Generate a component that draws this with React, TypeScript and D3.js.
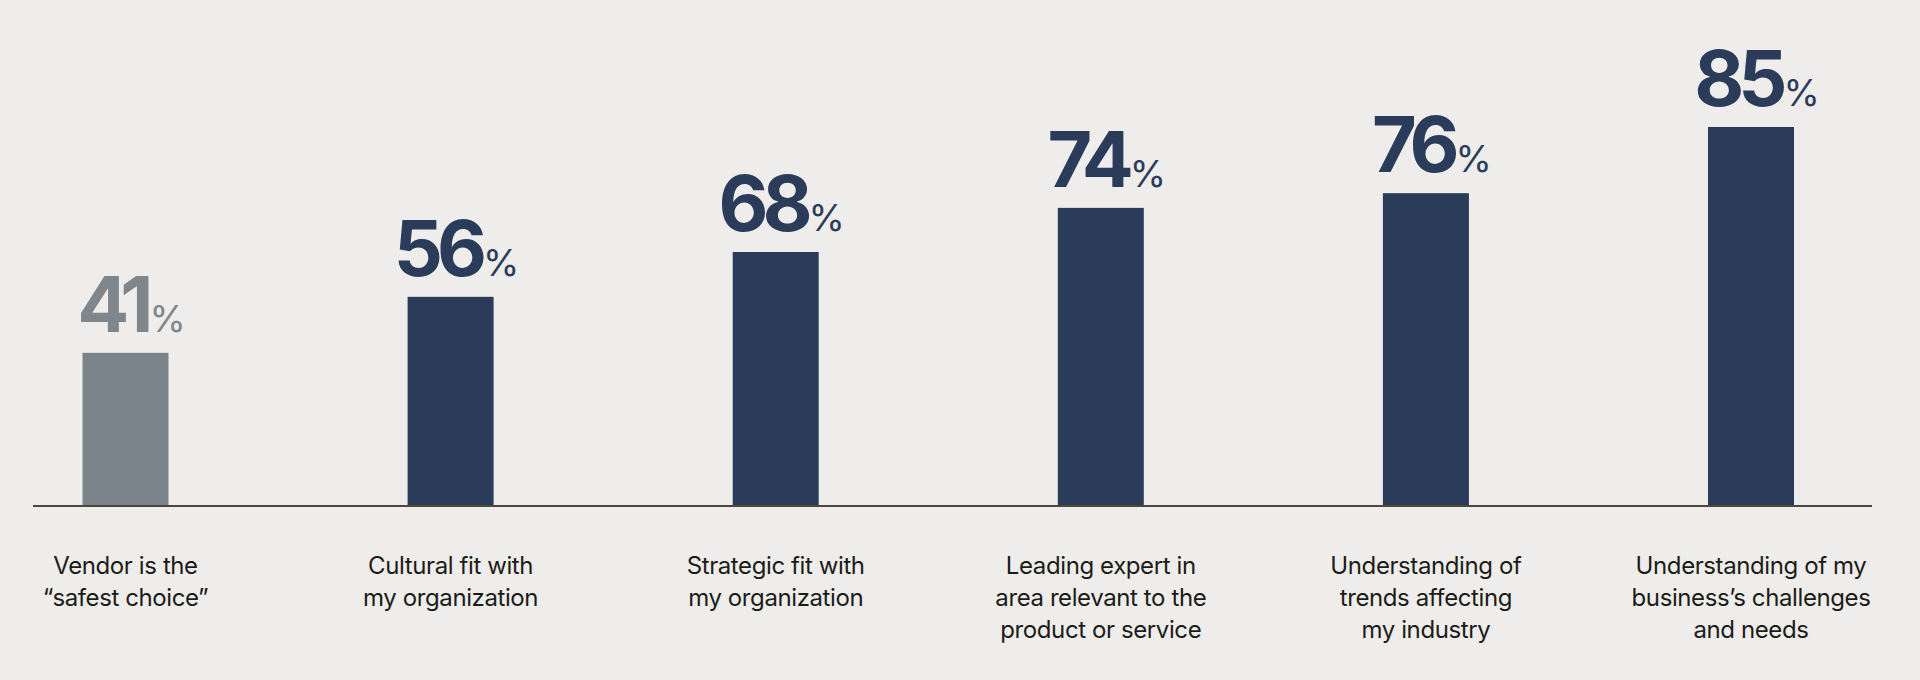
import React from "react";
import * as d3 from "d3";

const categories = [
  "Vendor is the “safest choice”",
  "Cultural fit with my organization",
  "Strategic fit with my organization",
  "Leading expert in area relevant to the product or service",
  "Understanding of trends affecting my industry",
  "Understanding of my business’s challenges and needs",
];

const labelLines = [
  ["Vendor is the", "“safest choice”"],
  ["Cultural fit with", "my organization"],
  ["Strategic fit with", "my organization"],
  ["Leading expert in", "area relevant to the", "product or service"],
  ["Understanding of", "trends affecting", "my industry"],
  ["Understanding of my", "business’s challenges", "and needs"],
];

const values = [41, 56, 68, 74, 76, 85];

const muted = [true, false, false, false, false, false];

const W = 1920;
const H = 680;
const BG = "#eeedeb";
const NAVY = "#2a3c5a";
const GREY_BAR = "#7a828a";
const GREY_TEXT = "#7f868c";

export default function App() {
  const baseY = 506;
  const x = d3
    .scaleBand<string>()
    .domain(categories)
    .range([82.5, 1794])
    .paddingInner(0.7355)
    .paddingOuter(0);
  // designer-scaled axis: proportional up to 68, stretched above
  const y = d3.scaleLinear().domain([0, 68, 85]).range([baseY, 252, 127]);

  return (
    <div style={{ position: "fixed", left: 0, top: 0, width: W, height: H, background: BG }}>
      <svg width={W} height={H} style={{ display: "block" }}>
        <rect x={0} y={0} width={W} height={H} fill={BG} />
        {categories.map((c, i) => {
          const v = values[i];
          const x0 = x(c) as number;
          const bw = x.bandwidth();
          const cx = x0 + bw / 2;
          const top = y(v);
          const fill = muted[i] ? GREY_BAR : NAVY;
          const tfill = muted[i] ? GREY_TEXT : NAVY;
          return (
            <g key={c}>
              <rect x={x0} y={top} width={bw} height={baseY - top} fill={fill} />
              <text
                x={cx + 6}
                y={top - 21}
                textAnchor="middle"
                fill={tfill}
                style={{ fontFamily: "Inter, 'Noto Sans', sans-serif" }}
              >
                <tspan fontSize={77} fontWeight={700} letterSpacing={-6}>
                  {String(v)}
                </tspan>
                <tspan fontSize={37} fontWeight={400} dx={2}>
                  %
                </tspan>
              </text>
              <text
                x={cx}
                y={574}
                textAnchor="middle"
                fill="#1c1c17"
                fontSize={24}
                letterSpacing={-0.4}
                style={{ fontFamily: "Inter, 'Noto Sans', sans-serif" }}
              >
                {labelLines[i].map((l, j) => (
                  <tspan key={j} x={cx} dy={j === 0 ? 0 : 32}>
                    {l}
                  </tspan>
                ))}
              </text>
            </g>
          );
        })}
        <line x1={33} x2={1872} y1={baseY} y2={baseY} stroke="#4d4738" strokeWidth={2} />
      </svg>
    </div>
  );
}
